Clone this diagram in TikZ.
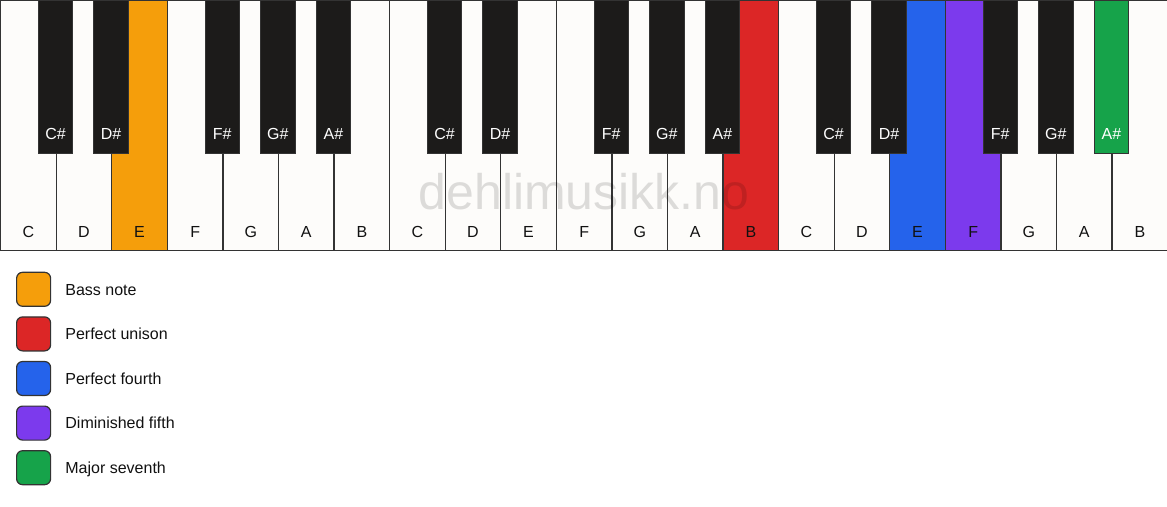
\documentclass[tikz,border=0pt]{standalone}
\usepackage{fontspec}
\setmainfont{Liberation Sans}
\definecolor{ivory}{HTML}{FDFCFA}
\definecolor{keyline}{HTML}{333333}
\definecolor{keyblack}{HTML}{1C1B1A}
\definecolor{bass}{HTML}{F59E0B}
\definecolor{unison}{HTML}{DC2626}
\definecolor{fourth}{HTML}{2563EB}
\definecolor{dimfifth}{HTML}{7C3AED}
\definecolor{seventh}{HTML}{16A34A}
\definecolor{labeldark}{HTML}{111111}
\begin{document}
\begin{tikzpicture}[x=1pt,y=-1pt,
  whitekey/.style={draw=keyline, line width=1.3pt, fill=ivory, rectangle, inner sep=0pt,
    minimum width=55.571pt, minimum height=250pt, anchor=north west},
  blackkey/.style={draw=keyline, line width=0.9pt, fill=keyblack, rectangle, inner sep=0pt,
    minimum width=34.5pt, minimum height=153pt, anchor=north},
  keyfont/.style={font=\fontsize{16}{19}\selectfont, inner sep=0pt, anchor=base},
  wlabel/.style={keyfont, text=labeldark},
  blabel/.style={keyfont, text=white},
  swatch/.style={draw=keyline, line width=1.2pt, rounded corners=6pt, rectangle,
    minimum size=34pt, inner sep=0pt, anchor=north west},
  legendtext/.style={font=\fontsize{16}{19}\selectfont, inner sep=0pt, anchor=base west, text=labeldark},
  watermark/.style={font=\fontsize{50}{60}\selectfont, inner sep=0pt, anchor=base, text=black, text opacity=0.13}]
\useasboundingbox (0,0) rectangle (1167,506);
\fill[white] (0,0) rectangle (1167,506);
% white keys
\foreach \i/\n/\c in {0/C/ivory,1/D/ivory,2/E/bass,3/F/ivory,4/G/ivory,5/A/ivory,6/B/ivory,
  7/C/ivory,8/D/ivory,9/E/ivory,10/F/ivory,11/G/ivory,12/A/ivory,13/B/unison,
  14/C/ivory,15/D/ivory,16/E/fourth,17/F/dimfifth,18/G/ivory,19/A/ivory,20/B/ivory}{
  \node[whitekey, fill=\c] (w\i) at ({\i*55.571},0) {};
  \node[wlabel] (wl\i) at ([yshift=14pt]w\i.south) {\n};
}
% watermark
\node[watermark] (wm) at (584,209) {dehlimusikk.no};
% black keys
\foreach \k/\n/\c in {1/C/keyblack,2/D/keyblack,4/F/keyblack,5/G/keyblack,6/A/keyblack,
  8/C/keyblack,9/D/keyblack,11/F/keyblack,12/G/keyblack,13/A/keyblack,
  15/C/keyblack,16/D/keyblack,18/F/keyblack,19/G/keyblack,20/A/seventh}{
  \node[blackkey, fill=\c] (b\k) at ({\k*55.571},0) {};
  \node[blabel] (bl\k) at ([yshift=14pt]b\k.south) {\n\#};
}
% legend
\foreach \j/\c/\t in {0/bass/Bass note,1/unison/Perfect unison,2/fourth/Perfect fourth,
  3/dimfifth/Diminished fifth,4/seventh/Major seventh}{
  \node[swatch, fill=\c] (sw\j) at (16,{271.7+44.6*\j}) {};
  \node[legendtext] (lt\j) at ([xshift=14pt,yshift=-5.8pt]sw\j.east) {\t};
}
\end{tikzpicture}
\end{document}
